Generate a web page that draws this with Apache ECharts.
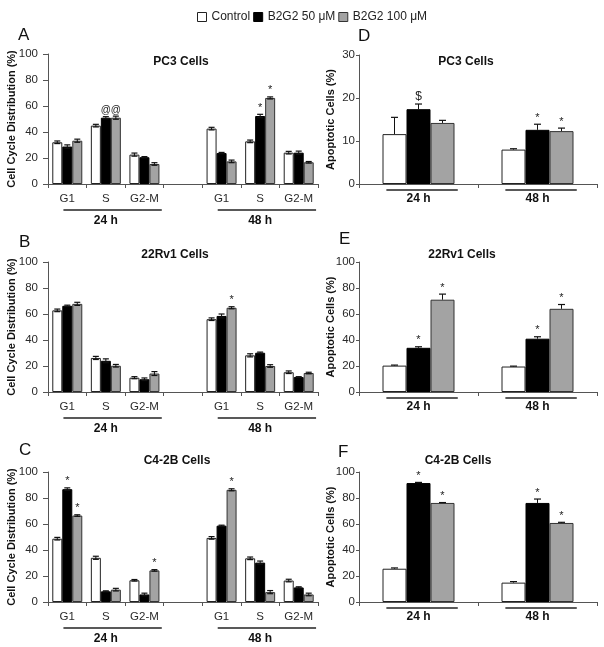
<!DOCTYPE html>
<html><head><meta charset="utf-8">
<script src="https://cdn.jsdelivr.net/npm/echarts@6/dist/echarts.min.js"></script>
<style>html,body{margin:0;padding:0;background:#fff}#c{width:604px;height:647px}</style>
</head><body><div id="c"></div><script>
// ---------- DATA ----------
const seriesNames = ['Control', 'B2G2 50 μM', 'B2G2 100 μM'];
const cycleCats = ['G1', 'S', 'G2-M', '', 'G1', 'S', 'G2-M'];
const cycleTimeLabels = ['', '24 h', '', '', '', '48 h', ''];
const cycleGroups = [[0, 2], [4, 6]];
const timeCats = ['24 h', '48 h'];
const cycleTicks = [0, 20, 40, 60, 80, 100];
const pc3ApoTicks = [0, 10, 20, 30];
const apoTicks = [0, 20, 40, 60, 80, 100];

// A: PC3 cell cycle (Control, 50 μM, 100 μM)
const pc3CycleMean = [
  [32.1, 44.9, 22.6, null, 42.6, 32.8, 24.1],
  [28.8, 51.0, 20.6, null, 23.8, 52.3, 24.1],
  [33.3, 51.0, 15.4, null, 17.4, 66.2, 16.7]];
const pc3CycleErr = [
  [1.0, 1.0, 1.2, null, 1.0, 1.0, 1.0],
  [1.3, 0.8, 0.5, null, 0.5, 1.3, 1.2],
  [1.2, 1.2, 1.0, null, 1.0, 0.8, 0.6]];
const pc3CycleMarks = [
  ['', '', '', '', '', '', ''],
  ['', '@', '', '', '', '*', ''],
  ['', '@', '', '', '', '*', '']];

// B: 22Rv1 cell cycle
const rv1CycleMean = [
  [62.8, 26.2, 11.0, null, 56.0, 28.2, 15.2],
  [66.3, 24.0, 9.8, null, 58.5, 30.2, 11.5],
  [67.8, 20.2, 14.2, null, 64.8, 20.0, 14.6]];
const rv1CycleErr = [
  [1.0, 1.2, 0.8, null, 1.0, 1.2, 1.0],
  [0.5, 1.5, 1.0, null, 1.5, 0.5, 0.3],
  [1.2, 1.0, 1.5, null, 0.8, 1.0, 0.6]];
const rv1CycleMarks = [
  ['', '', '', '', '', '', ''],
  ['', '', '', '', '', '', ''],
  ['', '', '', '', '*', '', '']];

// C: C4-2B cell cycle
const c42bCycleMean = [
  [48.7, 34.0, 16.7, null, 49.3, 33.6, 16.5],
  [86.8, 8.2, 5.8, null, 58.7, 30.3, 11.2],
  [66.5, 9.5, 24.3, null, 86.3, 7.6, 5.8]];
const c42bCycleErr = [
  [1.0, 1.2, 0.6, null, 1.0, 1.0, 1.0],
  [1.0, 0.4, 1.0, null, 0.4, 1.2, 0.5],
  [0.6, 1.0, 0.6, null, 0.8, 1.2, 1.0]];
const c42bCycleMarks = [
  ['', '', '', '', '', '', ''],
  ['*', '', '', '', '', '', ''],
  ['*', '', '*', '', '*', '', '']];

// D: PC3 apoptosis
const pc3ApoMean = [[11.6, 8.0], [17.4, 12.6], [14.2, 12.3]];
const pc3ApoErr = [[3.9, 0.2], [1.2, 1.3], [0.6, 0.7]];
const pc3ApoMarks = [['', ''], ['$', '*'], ['', '*']];

// E: 22Rv1 apoptosis
const rv1ApoMean = [[20.3, 19.6], [34.0, 41.0], [71.0, 64.0]];
const rv1ApoErr = [[0.4, 0.3], [0.8, 1.5], [4.3, 3.3]];
const rv1ApoMarks = [['', ''], ['*', '*'], ['*', '*']];

// F: C4-2B apoptosis
const c42bApoMean = [[25.6, 14.9], [91.5, 76.2], [76.2, 60.8]];
const c42bApoErr = [[0.6, 0.8], [0.5, 3.0], [0.3, 0.5]];
const c42bApoMarks = [['', ''], ['*', '*'], ['*', '*']];

// ---------- LAYOUT / STYLE ----------
const FONT = "'Liberation Sans', Arial, sans-serif";
const barStyles = [
  { color: '#ffffff', borderColor: '#222', borderWidth: 1 },
  { color: '#000000', borderColor: '#000', borderWidth: 1 },
  { color: '#a3a3a3', borderColor: '#333', borderWidth: 1 }];

const panels = [
  { kind: 'cycle', mean: pc3CycleMean, err: pc3CycleErr, marks: pc3CycleMarks, ticks: cycleTicks,
    grid: { left: 48, top: 54, width: 270, height: 130 }, title: 'PC3 Cells', tpos: [181, 62], letter: 'A', lpos: [18, 35] },
  { kind: 'apo', mean: pc3ApoMean, err: pc3ApoErr, marks: pc3ApoMarks, ticks: pc3ApoTicks,
    grid: { left: 359, top: 55, width: 238, height: 129 }, title: 'PC3 Cells', tpos: [466, 62], letter: 'D', lpos: [358, 36] },
  { kind: 'cycle', mean: rv1CycleMean, err: rv1CycleErr, marks: rv1CycleMarks, ticks: cycleTicks,
    grid: { left: 48, top: 262, width: 270, height: 130 }, title: '22Rv1 Cells', tpos: [175, 255], letter: 'B', lpos: [19, 242] },
  { kind: 'apo', mean: rv1ApoMean, err: rv1ApoErr, marks: rv1ApoMarks, ticks: apoTicks,
    grid: { left: 359, top: 262, width: 238, height: 130 }, title: '22Rv1 Cells', tpos: [462, 255], letter: 'E', lpos: [339, 239] },
  { kind: 'cycle', mean: c42bCycleMean, err: c42bCycleErr, marks: c42bCycleMarks, ticks: cycleTicks,
    grid: { left: 48, top: 472, width: 270, height: 130 }, title: 'C4-2B Cells', tpos: [177, 461], letter: 'C', lpos: [19, 450] },
  { kind: 'apo', mean: c42bApoMean, err: c42bApoErr, marks: c42bApoMarks, ticks: apoTicks,
    grid: { left: 359, top: 472, width: 238, height: 130 }, title: 'C4-2B Cells', tpos: [458, 461], letter: 'F', lpos: [338, 452] }
];

const grid = [], xAxis = [], yAxis = [], series = [], graphic = [];

panels.forEach((p, pi) => {
  const cycle = p.kind === 'cycle';
  grid.push(p.grid);
  const tks = p.ticks;
  yAxis.push({
    type: 'value', gridIndex: pi, min: tks[0], max: tks[tks.length - 1], interval: tks[1] - tks[0],
    name: cycle ? 'Cell Cycle Distribution (%)' : 'Apoptotic Cells (%)',
    nameLocation: 'middle', nameGap: cycle ? 31 : 23, nameMoveOverlap: false,
    nameTextStyle: { fontFamily: FONT, fontWeight: 'bold', fontSize: 11, color: '#111' },
    splitLine: { show: false },
    axisLine: { show: true, lineStyle: { color: '#555', width: 1 } },
    axisTick: { show: true, length: cycle ? 5 : 3, lineStyle: { color: '#555' } },
    axisLabel: { fontFamily: FONT, fontSize: 11.5, color: '#2a2a2a', margin: cycle ? 10 : 4 }
  });
  const xi = xAxis.length;
  xAxis.push({
    type: 'category', gridIndex: pi, data: cycle ? cycleCats : timeCats,
    axisLine: { show: true, lineStyle: { color: '#555', width: 1 } },
    axisTick: { show: true, length: 4, alignWithLabel: false, interval: 0, lineStyle: { color: '#555' } },
    axisLabel: cycle
      ? { interval: 0, fontFamily: FONT, fontSize: 11.5, color: '#2a2a2a', margin: 9 }
      : { interval: 0, fontFamily: FONT, fontSize: 12, fontWeight: 'bold', color: '#111', margin: 9 }
  });
  if (cycle) {
    xAxis.push({
      type: 'category', gridIndex: pi, data: cycleTimeLabels, position: 'bottom',
      axisLine: { show: false }, axisTick: { show: false },
      axisLabel: { interval: 0, fontFamily: FONT, fontSize: 12, fontWeight: 'bold', color: '#111', margin: 31 }
    });
  }
  const barW = cycle ? 10 : 24;
  for (let k = 0; k < 3; k++) {
    series.push({
      type: 'bar', name: seriesNames[k], xAxisIndex: xi, yAxisIndex: pi,
      data: p.mean[k], barWidth: barW, barGap: '0%', itemStyle: barStyles[k], z: 2
    });
    const mean = p.mean[k], err = p.err[k], marks = p.marks[k];
    series.push({
      type: 'custom', xAxisIndex: xi, yAxisIndex: pi, z: 4, silent: true,
      data: mean.map((v, i) => [i, v == null ? 0 : v, err[i] || 0]),
      encode: { x: 0, y: 1 },
      renderItem: (params, api) => {
        const i = params.dataIndex;
        const m = mean[i];
        if (m == null) return null;
        const e = err[i] || 0;
        const off = (k - 1) * barW;
        const top = api.coord([i, m + e]);
        const bot = api.coord([i, cycle ? m - e : m]);
        const x = top[0] + off;
        const cap = cycle ? 3 : 3.5;
        const col = '#111';
        const ch = [
          { type: 'line', shape: { x1: x, y1: top[1], x2: x, y2: bot[1] }, style: { stroke: col, lineWidth: 1 } },
          { type: 'line', shape: { x1: x - cap, y1: top[1], x2: x + cap, y2: top[1] }, style: { stroke: col, lineWidth: 1.2 } }
        ];
        if (cycle) ch.push({ type: 'line', shape: { x1: x - cap, y1: bot[1], x2: x + cap, y2: bot[1] }, style: { stroke: col, lineWidth: 1.2 } });
        if (marks[i]) {
          const isStar = marks[i] === '*';
          ch.push({ type: 'text', style: {
            x: x, y: top[1] - 1, text: marks[i], textAlign: 'center', textVerticalAlign: 'bottom',
            font: (isStar ? '11px ' : (marks[i] === '@' ? '10px ' : '12px ')) + FONT, fill: '#222' } });
        }
        return { type: 'group', children: ch };
      }
    });
  }
  // group underlines
  const groups = cycle ? cycleGroups : timeCats.map((c, i) => [i, i]);
  series.push({
    type: 'custom', xAxisIndex: xi, yAxisIndex: pi, z: 4, silent: true, clip: false,
    data: groups.map(g => [g[0], 0, g[1]]),
    encode: { x: 0, y: 1 },
    renderItem: (params, api) => {
      const g = groups[params.dataIndex];
      const a = api.coord([g[0], 0]);
      const b = api.coord([g[1], 0]);
      const cw = api.size([1, 0])[0];
      const x1 = cycle ? a[0] - 0.1 * cw : a[0] - 0.27 * cw;
      const x2 = cycle ? b[0] + 0.45 * cw : b[0] + 0.33 * cw;
      const y = a[1] + (cycle ? 26 : 6);
      return { type: 'line', shape: { x1, y1: y, x2, y2: y }, style: { stroke: '#222', lineWidth: 1.3 } };
    }
  });
  graphic.push({ type: 'text', x: p.tpos[0], y: p.tpos[1], style: {
    text: p.title, textAlign: 'center', textVerticalAlign: 'middle', font: 'bold 12px ' + FONT, fill: '#111' } });
  graphic.push({ type: 'text', x: p.lpos[0], y: p.lpos[1], style: {
    text: p.letter, textAlign: 'left', textVerticalAlign: 'middle', font: '17px ' + FONT, fill: '#111' } });
});

const chart = echarts.init(document.getElementById('c'), null, { renderer: 'canvas' });
chart.setOption({
  animation: false,
  backgroundColor: '#fff',
  legend: {
    left: 192, top: 6, itemWidth: 9, itemHeight: 9, itemGap: 3, icon: 'rect',
    textStyle: { fontFamily: FONT, fontSize: 12, color: '#222' },
    data: seriesNames.map((n, k) => ({ name: n, itemStyle: barStyles[k] })),
    selectedMode: false
  },
  grid, xAxis, yAxis, series, graphic
});
</script></body></html>
